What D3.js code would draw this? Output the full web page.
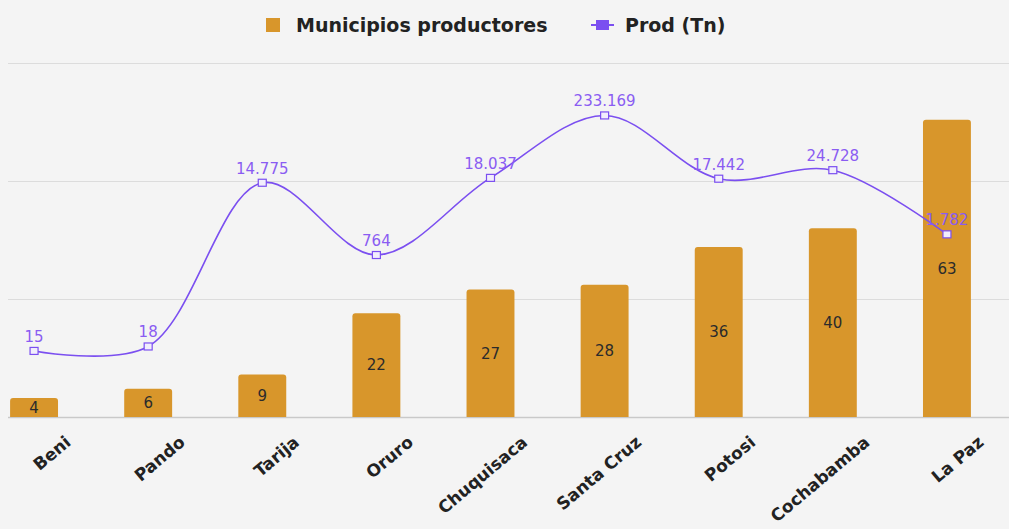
<!DOCTYPE html>
<html>
<head>
<meta charset="utf-8">
<script src="https://cdn.jsdelivr.net/npm/d3@7"></script>
<style>
  html, body { margin: 0; padding: 0; background: #f4f4f4; }
  svg { display: block; }
</style>
</head>
<body>
<svg id="chart" width="1009" height="529"></svg>
<script>
// Departments, number of producing municipalities and production in tonnes
const departamentos = ["Beni", "Pando", "Tarija", "Oruro", "Chuquisaca", "Santa Cruz", "Potosi", "Cochabamba", "La Paz"];
const municipios = [4, 6, 9, 22, 27, 28, 36, 40, 63];
const produccion = [15, 18, 14775, 764, 18037, 233169, 17442, 24728, 1782];
const gridTicks = [0, 25, 50, 75];
const legendLabels = ["Municipios productores", "Prod (Tn)"];

const W = 1009, H = 529;
const BAR = "#d8962b", LINE = "#7b4ff0", LABEL = "#8a5cf2";
const svg = d3.select("#chart");

const x = d3.scaleBand().domain(departamentos).range([-23, 1004])
  .paddingInner(0.58).paddingOuter(0.29);
const yBar = d3.scaleLinear().domain([0, 75]).range([417, 63]);
const yProd = d3.scaleLog().domain([1, 2e6]).range([417, 63]);

// Horizontal grid
svg.append("g").selectAll("line").data(gridTicks).join("line")
  .attr("x1", 8).attr("x2", W)
  .attr("y1", d => Math.round(yBar(d)) + 0.5).attr("y2", d => Math.round(yBar(d)) + 0.5)
  .attr("stroke", d => d === 0 ? "#c9c9c9" : "#dcdcdc").attr("stroke-width", d => d === 0 ? 1.5 : 1);

// Bars with rounded top corners
const r = 3;
svg.append("g").selectAll("path").data(municipios).join("path")
  .attr("fill", BAR)
  .attr("d", (d, i) => {
    const x0 = x(departamentos[i]), w = x.bandwidth(), y0 = yBar(d), y1 = yBar(0);
    return `M${x0},${y1}V${y0 + r}Q${x0},${y0} ${x0 + r},${y0}H${x0 + w - r}Q${x0 + w},${y0} ${x0 + w},${y0 + r}V${y1}Z`;
  });

// Bar values, centred in each bar
svg.append("g").selectAll("text").data(municipios).join("text")
  .attr("x", (d, i) => x(departamentos[i]) + x.bandwidth() / 2)
  .attr("y", d => (yBar(d) + yBar(0)) / 2)
  .attr("dy", "0.36em")
  .attr("text-anchor", "middle")
  .attr("font-family", "DejaVu Sans, sans-serif")
  .attr("font-size", 15)
  .attr("fill", "#2b2b2b")
  .text(d => d);

// Production line on a log scale
const pts = produccion.map((v, i) => [x(departamentos[i]) + x.bandwidth() / 2, yProd(v)]);
svg.append("path")
  .attr("d", d3.line().curve(d3.curveCatmullRom.alpha(0.5))(pts))
  .attr("fill", "none").attr("stroke", LINE).attr("stroke-width", 1.6);

svg.append("g").selectAll("rect").data(pts).join("rect")
  .attr("x", d => d[0] - 4).attr("y", d => d[1] - 3.5)
  .attr("width", 8).attr("height", 7)
  .attr("fill", "#f2eefc").attr("stroke", LINE).attr("stroke-width", 1.2);

const fmt = v => d3.format(",")(v).replace(/,/g, ".");
svg.append("g").selectAll("text").data(produccion).join("text")
  .attr("x", (d, i) => pts[i][0])
  .attr("y", (d, i) => pts[i][1] - 9)
  .attr("text-anchor", "middle")
  .attr("font-family", "DejaVu Sans, sans-serif")
  .attr("font-size", 15)
  .attr("fill", LABEL)
  .text(fmt);

// Category labels
svg.append("g").selectAll("text").data(departamentos).join("text")
  .attr("transform", d => `translate(${x(d) + x.bandwidth() / 2 + 38},${444}) rotate(-40)`)
  .attr("text-anchor", "end")
  .attr("font-family", "DejaVu Sans, sans-serif")
  .attr("font-weight", "bold")
  .attr("font-size", 17)
  .attr("fill", "#222")
  .text(d => d);

// Legend
const lg = svg.append("g").attr("font-family", "DejaVu Sans, sans-serif")
  .attr("font-weight", "bold").attr("font-size", 19).attr("fill", "#222");
lg.append("rect").attr("x", 266).attr("y", 18).attr("width", 14).attr("height", 14).attr("fill", BAR);
lg.append("text").attr("x", 296).attr("y", 32).text(legendLabels[0]);
lg.append("line").attr("x1", 591).attr("x2", 614).attr("y1", 25).attr("y2", 25)
  .attr("stroke", LINE).attr("stroke-width", 2);
lg.append("rect").attr("x", 596).attr("y", 20).attr("width", 13).attr("height", 10).attr("fill", LINE);
lg.append("text").attr("x", 625).attr("y", 32).text(legendLabels[1]);
</script>
</body>
</html>
